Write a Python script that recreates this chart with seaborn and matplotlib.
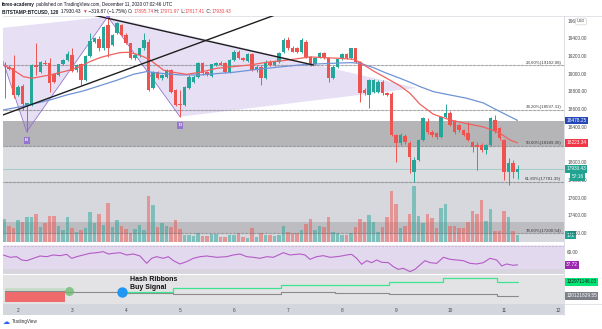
import numpy as np
import matplotlib
matplotlib.use("Agg")
import matplotlib.pyplot as plt
from matplotlib.lines import Line2D
from matplotlib.patches import Polygon, Rectangle
import seaborn as sns

sns.set_theme(style="white")
plt.rcParams["font.family"] = ["Liberation Sans", "DejaVu Sans"]

# ---------------- BITSTAMP:BTCUSD 2h candles (from Dec 1, 18:00 UTC) ----------------
opens = [19090, 19087, 19068, 18766, 18872, 18640, 18653, 19100, 19031, 19130,
         19125, 19000, 18993, 19114, 19163, 19219, 19049, 19114, 18936, 19212,
         19370, 19400, 19295, 19559, 19332, 19470, 19559, 19445, 19351, 19181,
         19219, 19295, 19370, 18842, 19031, 18955, 18974, 19049, 18823, 18660,
         18653, 18842, 18917, 18974, 19125, 19031, 18985, 19106, 19133, 19125,
         19031, 19163, 19257, 19190, 19150, 19227, 19049, 19087, 18963, 19144,
         19106, 19144, 19250, 19389, 19302, 19295, 19257, 19370, 19200, 19114,
         19189, 19238, 19181, 18963, 19087, 19174, 19227, 19181, 19295, 19144,
         18823, 18766, 18804, 18804, 18917, 18785, 18780, 18313, 18222, 18300,
         18219, 17898, 18030, 18257, 18460, 18347, 18336, 18290, 18517, 18562,
         18470, 18426, 18370, 18336, 18234, 18200, 18200, 18143, 18200, 18483,
         18392, 18256, 17894, 17996, 17895.74]
highs = [19144, 19110, 19219, 18880, 18890, 18680, 19120, 19351, 19150, 19160,
         19180, 19010, 19120, 19170, 19260, 19295, 19120, 19130, 19220, 19464,
         19420, 19430, 19550, 19653, 19460, 19590, 19575, 19464, 19360, 19230,
         19300, 19464, 19400, 19040, 19040, 19000, 19060, 19060, 18830, 18823,
         18870, 18990, 18990, 19140, 19140, 19040, 19120, 19140, 19150, 19140,
         19170, 19280, 19270, 19200, 19240, 19240, 19100, 19100, 19160, 19160,
         19160, 19250, 19408, 19427, 19320, 19310, 19408, 19390, 19210, 19200,
         19250, 19250, 19190, 19100, 19180, 19240, 19240, 19300, 19300, 19150,
         18840, 18950, 18950, 18930, 18930, 18800, 18800, 18330, 18340, 18320,
         18240, 18060, 18270, 18520, 18510, 18370, 18350, 18530, 18664, 18580,
         18480, 18440, 18380, 18460, 18250, 18230, 18220, 18210, 18520, 18540,
         18400, 18270, 18050, 18030, 17971.97]
lows = [18730, 19050, 18729, 18750, 18597, 18350, 18640, 18990, 19010, 19100,
        18804, 18900, 18980, 19100, 19150, 19030, 19030, 18880, 18920, 19200,
        19350, 19260, 19280, 19200, 19320, 19460, 19430, 19340, 19170, 19160,
        19200, 19280, 18810, 18830, 18950, 18940, 18960, 18790, 18640, 18520,
        18640, 18830, 18900, 18960, 18990, 18980, 18970, 19090, 19100, 19020,
        19010, 19150, 19170, 19150, 19140, 19040, 19030, 18880, 18950, 19090,
        19090, 19130, 19240, 19280, 19250, 19240, 19240, 19190, 19090, 19100,
        19180, 19170, 18917, 18950, 19070, 19160, 19170, 19170, 19130, 18691,
        18770, 18615, 18790, 18790, 18770, 18750, 18300, 18008, 18200, 18210,
        17883, 17785, 18020, 18240, 18330, 18290, 18270, 18280, 18500, 18410,
        18330, 18350, 18300, 18240, 18120, 17917, 18120, 18100, 18190, 18340,
        18260, 17804, 17747, 17826, 17817.41]
closes = [19105, 19060, 18766, 18861, 18660, 18672, 19106, 19080, 19144, 19120,
          18898, 18917, 19114, 19163, 19227, 19040, 19106, 18936, 19212, 19378,
          19408, 19300, 19540, 19295, 19445, 19578, 19445, 19351, 19181, 19219,
          19295, 19389, 18823, 19031, 18962, 18993, 19049, 18804, 18653, 18650,
          18861, 18974, 18974, 19125, 19012, 18993, 19114, 19125, 19106, 19031,
          19163, 19257, 19181, 19163, 19227, 19049, 19087, 18963, 19144, 19106,
          19144, 19238, 19389, 19295, 19257, 19250, 19389, 19200, 19106, 19189,
          19238, 19181, 18963, 19087, 19174, 19227, 19181, 19295, 19144, 18785,
          18785, 18936, 18936, 18917, 18785, 18766, 18313, 18222, 18313, 18230,
          18067, 18030, 18257, 18505, 18347, 18313, 18290, 18517, 18562, 18426,
          18347, 18370, 18313, 18256, 18177, 18180, 18143, 18200, 18505, 18358,
          18279, 17894, 17996, 17894, 17930.43]
volumes = [566, 394, 352, 541, 499, 607, 623, 689, 377, 459,
           640, 640, 394, 295, 607, 336, 254, 295, 352, 730,
           459, 681, 418, 951, 377, 541, 394, 312, 230, 312,
           418, 295, 1139, 910, 377, 459, 394, 377, 541, 312,
           172, 172, 148, 213, 148, 148, 189, 189, 131, 115,
           172, 172, 213, 131, 90, 336, 131, 213, 172, 172,
           148, 172, 394, 254, 230, 230, 295, 443, 566, 295,
           394, 361, 623, 254, 230, 172, 172, 230, 377, 574,
           499, 664, 499, 254, 377, 607, 1255, 927, 352, 394,
           681, 1385, 647, 459, 681, 598, 352, 844, 942, 401,
           401, 352, 352, 484, 770, 681, 1033, 524, 804, 271,
           271, 763, 615, 271, 172]

# moving averages (day of December, price)
ema_fast_days = [1.728, 1.914, 2.099, 2.253, 2.593, 2.901, 3.148, 3.333, 3.519, 3.704,
                 3.889, 4.043, 4.198, 4.321, 4.444, 4.568, 4.691, 4.877, 5.124, 5.370,
                 5.679, 5.988, 6.296, 6.605, 6.914, 7.222, 7.407, 7.654, 7.963, 8.210,
                 8.333, 8.580, 8.827, 9.074, 9.259, 9.444, 9.691, 10.0, 10.309, 10.617,
                 10.741, 10.926, 11.111, 11.25]
ema_fast = [19106, 19049, 18974, 18955, 18993, 19038, 19087, 19144, 19189, 19219,
            19246, 19249, 19227, 19200, 19163, 19106, 19049, 19023, 19000, 19023,
            19068, 19087, 19106, 19136, 19155, 19181, 19197, 19189, 19181, 19170,
            19136, 19038, 18955, 18870, 18785, 18661, 18548, 18484, 18442, 18404,
            18377, 18332, 18257, 18223.34]
ema_slow_days = [1.728, 2.161, 2.593, 2.901, 3.210, 3.519, 3.827, 4.136, 4.383, 4.630,
                 5.0, 5.370, 5.679, 5.988, 6.296, 6.605, 6.914, 7.222, 7.531, 7.840,
                 8.148, 8.333, 8.580, 8.827, 9.074, 9.259, 9.444, 9.691, 10.0, 10.309,
                 10.617, 10.864, 11.049, 11.25]
ema_slow = [18597, 18646, 18710, 18766, 18812, 18872, 18932, 19000, 19031, 19012,
            18993, 18993, 19008, 19023, 19046, 19068, 19087, 19106, 19117, 19125,
            19132, 19125, 19076, 19012, 18955, 18910, 18861, 18804, 18766, 18729,
            18676, 18597, 18540, 18478.25]

# harmonic pattern pivots
pattern_days = [1.519, 2.161, 3.661, 5.0, 9.389]
pattern_prices = [19513, 18350, 19653, 18520, 18845]

# trend lines
trend_down_days = [3.394, 7.469]
trend_down_prices = [19671, 19105]
trend_up_days = [1.717, 6.759]
trend_up_prices = [18539, 19671]

# Fibonacci retracement levels
fib_pcts = ["23.60%", "38.20%", "50.00%", "61.80%", "78.60%"]
fib_levels = [19102.08, 18597.31, 18189.35, 17781.39, 17200.54]
zone_top = 18470
zone_low_top = 17332

# right price scale (18200 sits under the EMA tag)
price_ticks = [17200, 17400, 17600, 17800, 18000, 18400, 18600, 18800, 19000, 19200,
               19400, 19600]

# RSI
rsi_days = [1.728, 1.852, 1.975, 2.068, 2.160, 2.284, 2.407, 2.531, 2.654, 2.778,
            2.901, 2.994, 3.086, 3.210, 3.333, 3.457, 3.580, 3.673, 3.765, 3.889,
            4.012, 4.136, 4.259, 4.383, 4.475, 4.568, 4.691, 4.784, 4.877, 5.000,
            5.124, 5.247, 5.370, 5.494, 5.679, 5.864, 5.988, 6.111, 6.235, 6.358,
            6.481, 6.605, 6.728, 6.914, 7.037, 7.222, 7.315, 7.407, 7.531, 7.654,
            7.778, 7.901, 7.994, 8.086, 8.179, 8.272, 8.364, 8.457, 8.549, 8.642,
            8.735, 8.858, 8.951, 9.043, 9.136, 9.259, 9.352, 9.444, 9.537, 9.630,
            9.753, 9.877, 10.000, 10.123, 10.247, 10.370, 10.494, 10.617, 10.741, 10.864,
            10.957, 11.049, 11.173, 11.25]
rsi_vals = [55.0, 50.9, 52.0, 46.2, 45.0, 49.1, 53.2, 52.0, 55.0, 53.8,
            56.1, 49.1, 52.0, 55.0, 57.9, 59.0, 60.8, 56.7, 57.9, 59.0,
            55.0, 56.7, 53.2, 40.3, 49.1, 52.0, 49.1, 52.0, 45.0, 39.2,
            43.3, 49.1, 52.0, 53.2, 50.9, 52.0, 55.0, 56.7, 52.0, 50.9,
            49.1, 52.0, 50.9, 59.0, 55.0, 56.7, 55.0, 47.4, 52.0, 53.8,
            50.9, 52.0, 53.2, 55.0, 56.1, 49.1, 38.6, 45.0, 41.5, 46.2,
            42.1, 41.5, 34.5, 29.8, 31.6, 25.7, 29.8, 37.4, 45.0, 41.5,
            40.3, 50.9, 47.4, 46.2, 45.0, 40.3, 39.2, 41.5, 49.1, 46.2,
            35.7, 39.2, 36.8, 37.72]

# Hash Ribbons (30d / 60d hash-rate averages, daily steps)
hash_days = [1.76, 2.87, 3.87, 4.87, 5.87, 6.87, 7.87, 8.87, 9.87, 10.87, 11.26]
hash_fast = [128.90e6, 129.59e6, 130.81e6, 131.63e6, 131.63e6, 132.30e6, 132.30e6,
             132.97e6, 133.78e6, 132971146.00, 132971146.00]
hash_slow = [131.02e6, 130.93e6, 130.61e6, 130.47e6, 130.47e6, 130.97e6, 130.61e6,
             130.40e6, 130.40e6, 130121829.55, 130121829.55]
capitulation_end = (2.94, 131.02e6)
buy_signal = (3.92, 130.81e6)

day_ticks = [2, 3, 4, 5, 6, 7, 8, 9, 10, 11, 12]

# ---------------- layout ----------------
UP, DN = "#26a69a", "#ef5350"
PURPLE = "#9575cd"
W, H = 602, 329
fig = plt.figure(figsize=(W / 100, H / 100), dpi=100)
fig.patch.set_facecolor("white")
X_LO, X_HI = 1.722, 12.111
P_LO, P_HI = 17102, 19660


def frame(x0, y0, x1, y1):
    return [x0 / W, 1 - y1 / H, (x1 - x0) / W, (y1 - y0) / H]


def bare(a):
    a.set_xticks([])
    a.set_yticks([])
    for s in a.spines.values():
        s.set_visible(False)


ax_bg = fig.add_axes(frame(3, 16, 564, 242))
ax_vol = fig.add_axes(frame(3, 16, 564, 242))
ax = fig.add_axes(frame(3, 16, 564, 242))
for a in (ax_bg, ax_vol, ax):
    bare(a)
    a.set_xlim(X_LO, X_HI)
ax_bg.set_ylim(P_LO, P_HI)
ax.set_ylim(P_LO, P_HI)
ax_vol.set_ylim(0, 5560)
ax_bg.set_zorder(0)
ax_vol.set_zorder(1)
ax.set_zorder(2)
ax_vol.patch.set_visible(False)
ax.patch.set_visible(False)

# shaded zones
ax_bg.set_facecolor("white")
ax_bg.axhspan(fib_levels[2], zone_top, color="#b5b5b8", lw=0)
ax_bg.axhspan(fib_levels[3], fib_levels[2], color="#dcdde0", lw=0)
ax_bg.axhspan(P_LO - 100, fib_levels[3], color="#d7d8dd", lw=0)
ax_bg.axhspan(fib_levels[4], zone_low_top, color="#bdbdc1", lw=0)

# volume
o = np.array(opens, float)
c = np.array(closes, float)
t = 1.75 + np.arange(len(closes)) / 12
col = np.where(c >= o, UP, DN)
ax_vol.bar(t, volumes, width=0.8 / 12, color=col, alpha=0.5, lw=0)

# harmonic pattern
P = list(zip(pattern_days, pattern_prices))
ax.add_patch(Polygon([P[0], P[1], P[2]], closed=True, fc=PURPLE, alpha=0.22, lw=0, zorder=1))
ax.add_patch(Polygon([P[2], P[3], P[4]], closed=True, fc=PURPLE, alpha=0.22, lw=0, zorder=1))
ax.plot(pattern_days[:4], pattern_prices[:4], color=PURPLE, lw=0.6, zorder=2)
for (d, p), lab in ((P[1], "B"), (P[3], "D")):
    ax.text(d, p - 95, lab, fontsize=3.2, color="white", ha="center", va="center",
            fontweight="bold", zorder=8,
            bbox=dict(boxstyle="square,pad=0.35", fc=PURPLE, ec="none"))
ax.add_patch(Rectangle((P[2][0] - 0.04, P[2][1] - 10), 0.08, 80, fc=PURPLE, lw=0, zorder=8))

# fib levels
for pct, lvl in zip(fib_pcts, fib_levels):
    ax.axhline(lvl, color="#6e6e72", lw=0.8, ls=(0, (0.6, 0.6)), zorder=3)
    ax.text(0.995, lvl + 8, f"{pct}({lvl:.2f})", transform=ax.get_yaxis_transform(),
            fontsize=3.2, color="#3c3c3c", ha="right", va="bottom", zorder=3)

# last price line
ax.axhline(closes[-1], color=UP, lw=0.5, alpha=0.45, zorder=3)

# candles
ax.vlines(t, lows, highs, colors=col, lw=0.7, zorder=4)
body_lo = np.minimum(o, c)
body_h = np.maximum(np.abs(c - o), 10)
ax.bar(t, body_h, bottom=body_lo, width=0.74 / 12, color=col, lw=0, zorder=5)

# moving averages
sns.lineplot(x=ema_slow_days, y=ema_slow, ax=ax, color="#6f93d6", lw=0.9, zorder=6)
sns.lineplot(x=ema_fast_days, y=ema_fast, ax=ax, color="#f0605d", lw=0.9, zorder=6)

# trend lines
ax.plot(trend_down_days, trend_down_prices, color="#1e1e1e", lw=1.0, zorder=7)
ax.plot(trend_up_days, trend_up_prices, color="#1e1e1e", lw=1.0, zorder=7)
ax.set_xlim(X_LO, X_HI)
ax.set_ylim(P_LO, P_HI)
ax.set_xlabel("")
ax.set_ylabel("")

# right price scale
yt = ax.get_yaxis_transform()
for p in price_ticks:
    ax.text(1.0055, p, f"{p:.2f}", transform=yt, fontsize=3.4, color="#4a4a4a",
            ha="left", va="center", clip_on=False, zorder=9)


def tag(axis, y, s, fc, tc="white", size=3.4, x=1.004):
    axis.text(x, y, s, transform=axis.get_yaxis_transform(), fontsize=size, color=tc,
              ha="left", va="center", clip_on=False, zorder=20,
              bbox=dict(boxstyle="square,pad=0.28", fc=fc, ec="none"))


tag(ax, ema_slow[-1], f"{ema_slow[-1]:.2f}", "#2448b8")
tag(ax, ema_fast[-1], f"{ema_fast[-1]:.2f}", "#f23645")
tag(ax, closes[-1], f"{closes[-1]:.2f}", "#22a291")
tag(ax, closes[-1] - 90, "57:16", "#22a291", x=1.013)
tag(ax_vol, volumes[-1], f"{volumes[-1]}", "#22a291", x=1.004)
fig.text(577 / W, 1 - 21.5 / H, "USD", fontsize=2.8, color="#444", va="center",
         bbox=dict(boxstyle="round,pad=0.35", fc="white", ec="#c9c9c9", lw=0.4))

# ---------------- RSI pane ----------------
ax_rsi = fig.add_axes(frame(3, 245, 564, 274))
bare(ax_rsi)
ax_rsi.set_facecolor("#d9d5de")
ax_rsi.set_xlim(X_LO, X_HI)
ax_rsi.set_ylim(21.6, 72.5)
ax_rsi.axhspan(30, 70, color="#e3d9ee", lw=0)
ax_rsi.axhspan(70, 80, color="#efeaf4", lw=0)
ax_rsi.axhline(70, color="#b9a9c9", lw=0.5, ls=(0, (3, 2)))
sns.lineplot(x=rsi_days, y=rsi_vals, ax=ax_rsi, color="#b45bc6", lw=0.8)
ax_rsi.set_xlim(X_LO, X_HI)
ax_rsi.set_ylim(21.6, 72.5)
ax_rsi.set_xlabel("")
ax_rsi.set_ylabel("")
ax_rsi.text(1.0055, 60, "60.00", transform=ax_rsi.get_yaxis_transform(), fontsize=3.4,
            color="#4a4a4a", ha="left", va="center", clip_on=False)
tag(ax_rsi, rsi_vals[-1], f"{rsi_vals[-1]:.2f}", "#9c27b0")

# ---------------- Hash Ribbons pane ----------------
ax_h = fig.add_axes(frame(3, 275, 564, 304))
bare(ax_h)
ax_h.set_facecolor("#e3e3e5")
ax_h.set_xlim(X_LO, X_HI)
ax_h.set_ylim(128.43e6, 134.33e6)
hd = np.array(hash_days)
hf = np.array(hash_fast)
hs = np.array(hash_slow)
below = hf < hs
ax_h.fill_between(hd, hs, hs + 0.6e6, where=below, step="post", color="#a5d6a7",
                  alpha=0.45, lw=0)
ax_h.fill_between(hd, hf, hs, where=below, step="post", color="#f06464", alpha=0.95, lw=0)
sns.lineplot(x=hash_days, y=hash_slow, ax=ax_h, color="#8a8a8e", lw=0.8, drawstyle="steps-post")
sns.lineplot(x=hash_days[2:], y=hash_fast[2:], ax=ax_h, color="#3ee38f", lw=0.9,
             drawstyle="steps-post")
ax_h.plot(*capitulation_end, "o", ms=6.5, color="#66bb6a", alpha=0.75, mec="none", zorder=6)
ax_h.plot(*buy_signal, "o", ms=7.5, color="#2196f3", mec="none", zorder=6)
ax_h.set_xlim(X_LO, X_HI)
ax_h.set_ylim(128.43e6, 134.33e6)
ax_h.set_xlabel("")
ax_h.set_ylabel("")
ax_h.text(4.07, 133.32e6, "Hash Ribbons", fontsize=5.0, fontweight="bold", color="#111",
          ha="left", va="center")
ax_h.text(4.07, 131.75e6, "Buy Signal", fontsize=5.0, fontweight="bold", color="#111",
          ha="left", va="center")
tag(ax_h, hash_fast[-1], f"{hash_fast[-1]:.2f}", "#00e676", tc="#1a1a1a")
tag(ax_h, hash_slow[-1], f"{hash_slow[-1]:.2f}", "#7c7f88")

# ---------------- time axis ----------------
ax_x = fig.add_axes(frame(3, 304, 564, 315))
bare(ax_x)
ax_x.set_facecolor("#d3d6dc")
ax_x.set_xlim(X_LO, X_HI)
ax_x.set_ylim(0, 1)
for d in day_ticks:
    ax_x.text(d, 0.45, str(d), fontsize=3.4, color="#444", ha="center", va="center")

# separators
for yy in (16, 304):
    fig.add_artist(Line2D([3 / W, 1], [1 - yy / H] * 2, color="#d6d8de", lw=0.5))
fig.add_artist(Line2D([564 / W] * 2, [1 - 16 / H, 1 - 315 / H], color="#d6d8de", lw=0.6))

# ---------------- header ----------------
renderer = fig.canvas.get_renderer()


def run_text(x_px, y_px, pieces, size):
    x = x_px
    for s, color, weight in pieces:
        tx = fig.text(x / W, 1 - y_px / H, s, fontsize=size, color=color,
                      fontweight=weight, ha="left", va="center")
        x += tx.get_window_extent(renderer).width


INK = "#131722"
RED = "#f0444a"
run_text(2, 4.3, [("forex-academy", INK, "bold"),
                  (" published on TradingView.com, December 11, 2020 07:02:46 UTC", INK, "normal")],
         3.3)
run_text(2, 11.2, [("BITSTAMP:BTCUSD, 120", INK, "bold"),
                   ("  17930.43 ", INK, "normal"), ("▼", RED, "normal"),
                   (" −319.87 (−1.75%) ", INK, "normal"),
                   ("O:", INK, "normal"), (f"{opens[-1]:.2f}", RED, "normal"),
                   (" H:", INK, "normal"), (f"{highs[-1]:.2f}", RED, "normal"),
                   (" L:", INK, "normal"), (f"{lows[-1]:.2f}", RED, "normal"),
                   (" C:", INK, "normal"), (f"{closes[-1]:.2f}", RED, "normal")],
         3.4)

# footer logo
fig.text(3 / W, 1 - 322 / H, "☁", fontsize=5, color="#2962ff", va="center",
         family=["DejaVu Sans"])
fig.text(12 / W, 1 - 322 / H, "TradingView", fontsize=3.3, color="#333", va="center")

fig.savefig("out.png", dpi=100)
